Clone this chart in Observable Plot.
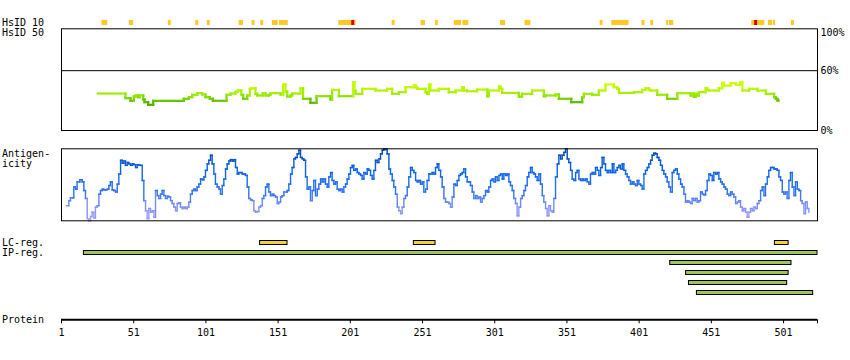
<!DOCTYPE html>
<html><head><meta charset="utf-8">
<script src="https://cdn.jsdelivr.net/npm/d3@7"></script>
<script src="https://cdn.jsdelivr.net/npm/@observablehq/plot@0.6"></script>
<style>
body{margin:0;background:#fff;}
#chart{position:relative;width:850px;height:360px;font-family:"DejaVu Sans Mono",monospace;font-size:10px;color:#000;}
#chart .lbl{position:absolute;left:2px;line-height:10px;white-space:pre;}
</style></head><body><div id="chart"></div>
<script>
// ---- data ----
const proteinEnd = 524.5;
const proteinTicks = [1, 51, 101, 151, 201, 251, 301, 351, 401, 451, 501];
const hsid50Ticks = [0, 60];
const hsid50TopTick = [100];
const hsid50Threshold = [60];

const hsid10Start = [29,48,75,94,102,124,133,139,147,152,193,230,250,260,273,279,305,322,374,382,403,409,420,422,479,490.5,494,506.5];
const hsid10End   = [33,51,77,96,104,127,135,141,151,158,205,232,253,262,278,283,308.5,326,376,394,405,411,421.5,425,488,493.5,495.5,508.5];
const hsid10RedStart = [202, 481];
const hsid10RedEnd   = [204, 483];

const hsid50 = [[26.1,37.1],[45.3,32.4],[48.8,29.8],[51.1,34.1],[52.2,35.1],[54,33.4],[55,35.1],[57.6,31.1],[58.5,28.4],[61,25.8],[64.5,29.8],[85.7,31.8],[89.2,33.4],[91.5,35.8],[95,37.4],[98.4,36.1],[100.7,33.4],[103.7,31.8],[105.8,29.8],[115.3,35.8],[118,37.1],[121.5,38.8],[123.1,40.1],[125.5,35.8],[126.8,31.8],[129.6,35.1],[131.4,41.8],[132.4,42.4],[135.3,36.8],[136.5,35.1],[140.4,37.4],[142.3,35.1],[144.6,35.8],[145.7,37.4],[152.7,36.1],[154.5,46.1],[156.1,39.1],[157.3,34.1],[159.6,35.1],[160.8,37.1],[166.5,42.4],[168.3,31.8],[173.4,27.8],[177.6,34.4],[187.3,31.1],[188.4,40.7],[193.1,34.4],[203,48.4],[203.9,40],[204.6,36.8],[209.3,41.8],[218.5,40.1],[226.5,41.8],[230,36.8],[234.6,38.4],[239.2,43.4],[245,45.1],[246.2,43.4],[247.3,41.8],[253.1,38.4],[254.2,36.8],[255.4,46.1],[256.5,40.1],[262.3,41.8],[269.2,38.4],[273.9,40.1],[278.5,43.4],[279.6,40.1],[281.9,39.4],[288.8,41.1],[295.8,34.4],[296.9,40.1],[303.9,44.1],[305,41.8],[306.2,37.7],[317.7,34.1],[319.9,36.8],[326.9,40.1],[335,34.4],[336.2,35.1],[343.1,36.1],[345.4,31.8],[354,28.4],[361.6,33.4],[362.7,36.8],[368.5,35.8],[373.1,40.1],[377.7,46.1],[383.5,43.4],[385.8,41.8],[387,37.7],[397.4,38.4],[403.1,40.7],[405.4,42.4],[407.7,40.7],[408.9,40.1],[413.5,35.8],[420.4,31.8],[427.4,37.4],[436.6,35.1],[437.7,37],[438.9,33.8],[440.1,36.8],[441.2,35.1],[442.4,38.4],[447,42.4],[448.1,40.7],[449.3,40.1],[456.2,42.4],[458.5,47.8],[459.7,45.1],[464.4,47.4],[468,45.8],[470.9,48.1],[472.5,40.1],[477.2,41.8],[482.9,40.1],[488.7,36.8],[494.5,33.4],[495.6,31.8],[496.8,30.1],[497.4,30.1]];

const antigenicity = [[4.5,21],[6.1,28],[7.2,32],[8.4,32],[9.5,47],[10.7,44],[11.8,54],[13.7,57],[15.3,54],[16.5,42],[17.6,31],[18.8,3],[19.9,0],[21.1,6],[22.2,12],[23.4,4],[24.5,19],[25.7,21],[26.9,37],[28,42],[29.2,44],[30.3,43],[31.5,43],[32.6,44],[33.8,49],[34.9,54],[36.1,43],[37.2,42],[38.4,40],[39.6,51],[40.7,65],[41.9,84],[43,80],[44.2,83],[45.3,77],[46.5,81],[47.6,79],[48.8,77],[50,79],[51.1,78],[52.3,74],[53.4,78],[54.6,77],[55.7,77],[56.9,56],[58,28],[59.2,14],[60.3,3],[61.5,17],[62.6,12],[63.8,14],[65,5],[66.1,42],[67.3,35],[68.4,31],[69.6,37],[70.7,42],[71.9,35],[73,31],[74.2,34],[75.3,33],[76.5,28],[77.6,24],[78.8,19],[80,14],[81.1,24],[82.3,25],[83.4,19],[84.6,17],[85.7,19],[86.9,17],[88,19],[89.2,26],[90.3,37],[91.5,42],[92.6,44],[93.8,42],[94.9,47],[96.1,51],[97.3,58],[98.4,57],[99.6,61],[100.7,70],[101.9,79],[103,84],[104.2,91],[105.3,79],[106.5,65],[107.6,51],[108.8,47],[110,44],[111.1,37],[112.3,49],[113.4,58],[114.6,72],[115.7,79],[116.9,83],[118,85],[119.2,83],[120.4,85],[121.5,74],[122.7,65],[123.8,67],[125,67],[126.1,65],[127.3,65],[128.4,63],[129.6,47],[130.7,31],[131.9,29],[133,28],[134.2,14],[135.3,12],[136.5,13],[137.7,19],[138.8,21],[140,31],[141.1,35],[142.3,47],[143.4,51],[144.6,40],[145.7,35],[146.9,37],[148,35],[149.2,33],[150.4,24],[151.5,26],[152.7,33],[153.8,35],[155,40],
[157.3,42],[158.4,51],[159.6,65],[160.7,74],[161.9,86],[163,88],[164.2,93],[165.4,98],[166.5,88],[167.7,86],[168.8,84],[170,61],[171.1,44],[172.3,47],[173.4,28],[174.6,42],[175.7,56],[176.9,35],[178.1,44],[179.2,51],[180.4,58],[181.5,54],[182.7,58],[183.8,51],[185,47],[186.1,61],[187.3,67],[188.4,56],[189.6,51],[190.8,54],[191.9,44],[193.1,42],[194.2,44],[195.4,40],[196.5,47],[197.7,51],[198.8,58],[200,65],[201.1,74],[202.3,77],[203.4,70],[204.6,72],[205.8,67],[206.9,65],[208.1,63],[209.2,58],[210.4,67],[211.5,65],[212.7,72],[213.8,70],[215,63],[216.1,58],[217.3,70],[218.4,84],[219.6,81],[220.8,86],[221.9,93],[223.1,98],[224.2,100],[225.4,99],[226.5,93],[227.7,72],[228.8,65],[230,56],[231.1,47],[232.3,37],[233.5,19],[234.6,14],[235.8,10],[236.9,19],[238.1,31],[239.2,35],[240.4,47],[241.5,61],[242.7,74],[243.8,70],[245,67],[246.2,56],[247.3,54],[248.5,56],[249.6,51],[250.8,54],[251.9,40],[253.1,44],[254.2,56],[255.4,65],[256.5,65],[257.7,67],[258.8,65],[260,74],[261.2,79],[262.3,70],[263.5,61],[264.6,47],[265.8,31],[266.9,26],[268.1,26],[269.2,24],[270.4,19],[271.5,33],[272.7,51],[273.9,49],[275,56],[276.2,63],[277.3,65],[278.5,67],[279.6,72],[280.8,61],[281.9,54],[283.1,54],[284.2,49],[285.4,40],[286.5,31],[287.7,35],[288.8,31],[290,33],[291.2,26],[292.3,31],[293.5,35],[294.6,42],[295.8,40],[296.9,47],[298.1,56],[299.2,58],[300.4,54],[301.5,61],[302.7,56],[303.9,63],[305,65],[306.2,58],[307.3,65],[308.5,63],[309.6,65],[310.8,54],[311.9,49],[313.1,42],[314.2,31],[315.4,24],[316.5,7],[317.7,19],[318.9,31],[320,35],[321.2,42],[322.3,49],[323.5,61],[324.6,67],[325.8,74],[326.9,67],[328.1,65],[329.2,61],[330.4,56],[331.6,65],[332.7,51],[333.9,35],[335,26],[336.2,17],[337.3,7],[338.5,21],[339.6,14],[340.8,12],[341.9,31],[343.1,61],[344.3,79],[345.4,91],[346.6,86],[347.7,91],[348.9,95],[350,100],[351.2,86],[352.3,81],[353.5,70],[354.6,58],[355.8,56],[357,67],[358.1,70],[359.3,58],
[360.4,56],[361.6,58],[362.7,56],[363.9,58],[365,54],[366.2,51],[367.3,65],[368.5,67],[369.7,65],[370.8,74],[372,70],[373.1,63],[374.3,74],[375.4,88],[376.6,79],[377.7,70],[378.9,67],[380,70],[381.2,67],[382.4,79],[383.5,67],[384.7,70],[385.8,74],[387,77],[388.1,72],[389.3,79],[390.4,70],[391.6,65],[392.7,61],[393.9,56],[395,51],[396.2,54],[397.4,51],[398.5,49],[399.7,56],[400.8,51],[402,49],[403.1,44],[404.3,65],[405.4,70],[406.6,74],[407.7,79],[408.9,84],[410,91],[411.2,94],[412.4,93],[413.5,88],[414.7,84],[415.8,77],[417,70],[418.1,65],[419.3,61],[420.4,54],[421.6,47],[422.7,40],[423.9,67],[425,70],[426.2,72],[427.4,65],[428.5,58],[429.7,51],[430.8,47],[432,37],[433.1,26],[434.3,28],[435.4,26],[436.6,24],[437.7,31],[438.9,28],[440.1,31],[441.2,26],[442.4,28],[443.5,40],[444.7,37],[445.8,36],[447,42],[448.1,56],[449.3,65],[450.4,63],[451.6,56],[452.7,67],[453.9,65],[455.1,67],[456.2,58],[457.4,54],[458.5,51],[459.7,47],[460.8,44],[462,37],[463.1,35],[464.3,40],[465.4,37],[466.6,33],[467.8,24],[468.9,26],[470.1,28],[471.2,19],[472.4,14],[473.5,17],[474.7,12],[475.8,5],[477,12],[478.1,17],[479.3,14],[480.5,19],[481.6,17],[482.8,24],[483.9,28],[485.1,42],[486.2,47],[487.4,35],[488.5,51],[489.7,61],[490.8,70],[492,74],[493.1,74],[494.3,72],[495.5,72],[496.6,70],[497.8,61],[498.9,56],[500.1,40],[501.2,37],[502.4,40],[503.5,31],[504.7,56],[505.8,67],[507,47],[508.2,35],[509.3,54],[510.5,44],[511.6,42],[512.8,28],[513.9,24],[515.1,10],[516.2,26],[517.4,17],[518.5,12]];

const lcStart = [138.5, 245, 495];
const lcEnd   = [157.5, 260, 504.5];
const ipStart = [16.5, 422.5, 433.5, 435.5, 441];
const ipEnd   = [524.5, 506.5, 504.5, 503.5, 521.5];

const trackLabels = [
  {text: "HsID 10", top: 17.9}, {text: "HsID 50", top: 27.9},
  {text: "Antigen-", top: 148.5}, {text: "icity", top: 158.5},
  {text: "LC-reg.", top: 238}, {text: "IP-reg.", top: 248},
  {text: "Protein", top: 314.5}
];

// ---- drawing ----
const chart = document.getElementById("chart");
const W = 850, ML = 61, MR = 33;
const baseStyle = {fontFamily: "'DejaVu Sans Mono', monospace", fontSize: "10px", overflow: "visible", display: "block", background: "transparent", color: "black"};
const xs = () => ({domain: [1, proteinEnd], axis: null});
function place(svg, top) {
  svg.style.position = "absolute"; svg.style.left = "0px"; svg.style.top = top + "px";
  chart.appendChild(svg);
}
function steps(arr) {
  const out = [];
  for (let i = 0; i < arr.length - 1; i++) {
    const [r0, v0] = arr[i], [r1, v1] = arr[i + 1];
    out.push({x1: r0, x2: r1, y1: v0, y2: v0, c: v0});
    out.push({x1: r1, x2: r1, y1: v0, y2: v1, c: (v0 + v1) / 2});
  }
  return out;
}

// HsID 10 track
const hs10 = hsid10Start.map((s, i) => ({start: s, end: hsid10End[i]}));
const hs10red = hsid10RedStart.map((s, i) => ({start: s, end: hsid10RedEnd[i]}));
place(Plot.plot({
  width: W, height: 28, marginLeft: ML, marginRight: MR, marginTop: 20, marginBottom: 3,
  x: xs(), style: baseStyle,
  marks: [
    Plot.barX(hs10, {x1: "start", x2: "end", fill: "#ffc825"}),
    Plot.barX(hs10red, {x1: "start", x2: "end", fill: "#dd0000"})
  ]
}), 0);

// HsID 50 panel
place(Plot.plot({
  width: W, height: 120, marginLeft: ML, marginRight: MR, marginTop: 8.3, marginBottom: 10,
  x: xs(), y: {domain: [0, 102]}, style: baseStyle,
  color: {type: "linear", domain: [26, 30, 35, 40, 46], range: ["#55aa00", "#66c400", "#90ea00", "#b4f400", "#ccff00"], clamp: true},
  marks: [
    Plot.link(steps(hsid50), {x1: "x1", y1: "y1", x2: "x2", y2: "y2", stroke: "c", strokeWidth: 2.2, strokeLinecap: "square"}),
    Plot.ruleY(hsid50Threshold, {stroke: "black", strokeWidth: 1}),
    Plot.frame({stroke: "black", strokeWidth: 1}),
    Plot.axisY({anchor: "right", ticks: hsid50Ticks, tickFormat: d => d + "%", tickSize: 0, tickPadding: 3, label: null, fill: "black"}),
    Plot.axisY({anchor: "right", ticks: hsid50TopTick, tickFormat: d => d + "%", tickSize: 0, tickPadding: 3, label: null, dy: 2, fill: "black"})
  ]
}), 20);

// Antigenicity panel
place(Plot.plot({
  width: W, height: 85, marginLeft: ML, marginRight: MR, marginTop: 8.3, marginBottom: 4.7,
  x: xs(), y: {domain: [0, 100], axis: null}, style: baseStyle,
  color: {type: "linear", domain: [0, 20, 40, 70, 100], range: ["#aaa0ff", "#8090f8", "#2e72f0", "#0a64ea", "#0046a8"], clamp: true},
  marks: [
    Plot.link(steps(antigenicity), {x1: "x1", y1: "y1", x2: "x2", y2: "y2", stroke: "c", strokeWidth: 1.4, strokeLinecap: "square"}),
    Plot.frame({stroke: "black", strokeWidth: 1})
  ]
}), 140);

// Regions
const rowKeys = ["LC", "IP1", "IP2", "IP3", "IP4", "IP5"];
const regions = [
  ...lcStart.map((s, i) => ({row: "LC", start: s, end: lcEnd[i], kind: "LC"})),
  ...ipStart.map((s, i) => ({row: "IP" + (i + 1), start: s, end: ipEnd[i], kind: "IP"}))
];
place(Plot.plot({
  width: W, height: 65, marginLeft: ML, marginRight: MR, marginTop: 5, marginBottom: 0,
  x: xs(), y: {type: "band", domain: rowKeys, padding: 0, axis: null}, style: baseStyle,
  marks: [
    Plot.barX(regions, {x1: "start", x2: "end", y: "row", fill: d => d.kind === "LC" ? "#f2d43a" : "#9cc65a", stroke: "black", strokeWidth: 1, insetTop: 0.5, insetBottom: 5.5})
  ]
}), 235);

// Protein axis
place(Plot.plot({
  width: W, height: 45, marginLeft: ML, marginRight: MR, marginTop: 5, marginBottom: 25.7,
  x: {domain: [1, proteinEnd]}, y: {domain: [0, 1], axis: null}, style: baseStyle,
  marks: [
    Plot.ruleY([0], {stroke: "black", strokeWidth: 2}),
    Plot.axisX({anchor: "bottom", ticks: [...proteinTicks, proteinEnd], tickFormat: d => proteinTicks.includes(d) ? String(d) : "", tickSize: 4, tickPadding: 5, label: null, fill: "black", stroke: "black"})
  ]
}), 300);

// Track labels
for (const l of trackLabels) {
  const d = document.createElement("div");
  d.className = "lbl"; d.style.top = l.top + "px"; d.textContent = l.text;
  chart.appendChild(d);
}
</script></body></html>
